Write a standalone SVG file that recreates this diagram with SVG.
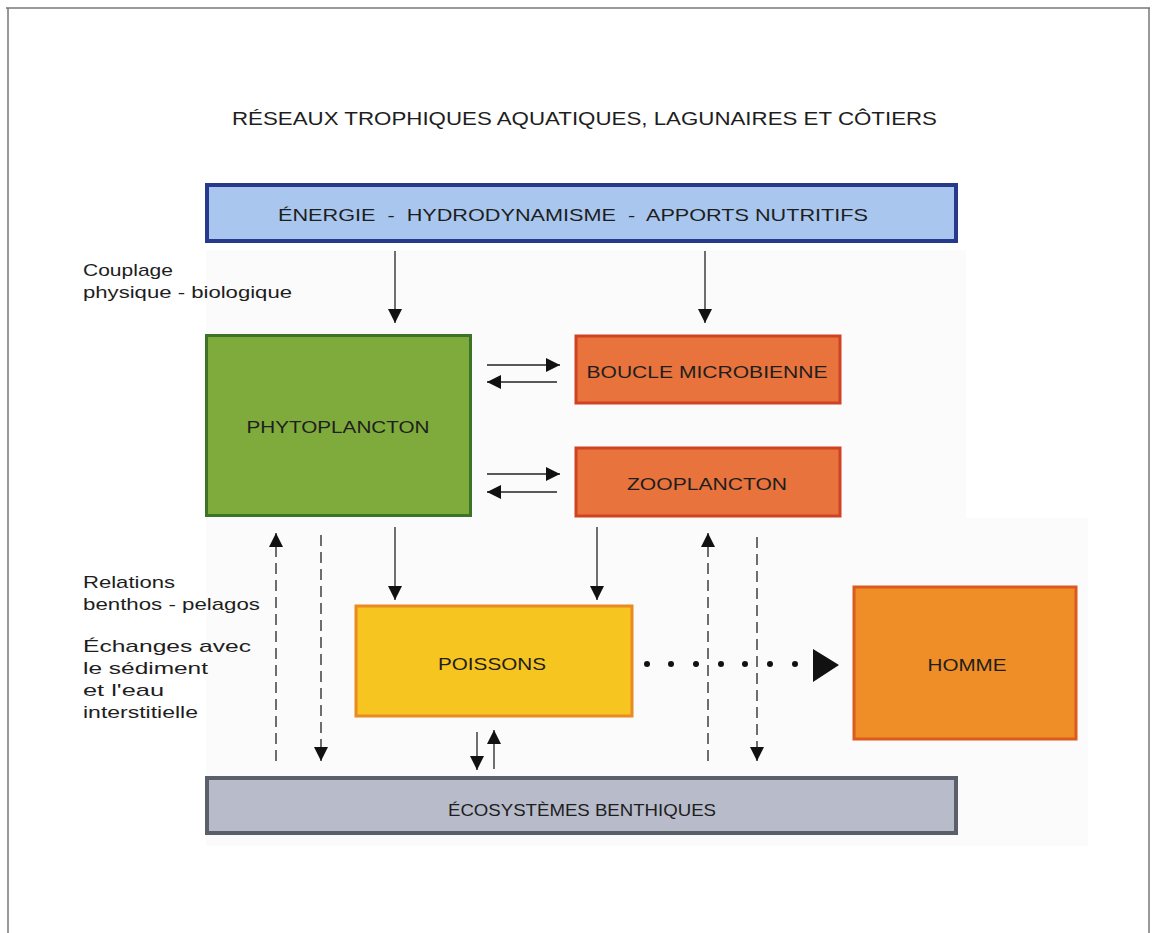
<svg xmlns="http://www.w3.org/2000/svg" width="1155" height="933" viewBox="0 0 1155 933">
<style>
  text { font-family: "Liberation Sans", Arial, sans-serif; fill: #1e1e1e; }
  .title { font-size: 18px; }
  .box { font-size: 17px; text-anchor: middle; }
  .lab { font-size: 17px; }
  .solid { stroke: #222; stroke-width: 1.3; fill: none; }
  .dash { stroke: #222; stroke-width: 1.3; fill: none; stroke-dasharray: 11 6; }
</style>
<defs>
  <marker id="ah" markerUnits="userSpaceOnUse" markerWidth="14" markerHeight="14" viewBox="0 0 14 14" refX="14" refY="7" orient="auto">
    <path d="M0,0 L14,7 L0,14 Z" fill="#111"/>
  </marker>
</defs>
<rect x="0" y="0" width="1155" height="933" fill="#ffffff"/>
<rect x="206" y="250" width="760" height="270" fill="#fbfbfb"/>
<rect x="206" y="518" width="882" height="328" fill="#fbfbfb"/>
<g id="frame" stroke="#777" stroke-width="1.5" fill="none">
  <line x1="6" y1="8" x2="1150" y2="8"/>
  <line x1="8" y1="8" x2="8" y2="933"/>
  <line x1="1149" y1="8" x2="1149" y2="933"/>
</g>
<text class="title" x="232" y="125" textLength="705" lengthAdjust="spacingAndGlyphs">RÉSEAUX TROPHIQUES AQUATIQUES, LAGUNAIRES ET CÔTIERS</text>

<g id="labels">
  <text class="lab" x="83" y="276" textLength="90" lengthAdjust="spacingAndGlyphs">Couplage</text>
  <text class="lab" x="83" y="298" textLength="209" lengthAdjust="spacingAndGlyphs">physique - biologique</text>
  <text class="lab" x="83" y="588" textLength="92" lengthAdjust="spacingAndGlyphs">Relations</text>
  <text class="lab" x="83" y="610" textLength="177" lengthAdjust="spacingAndGlyphs">benthos - pelagos</text>
  <text class="lab" x="83" y="652" textLength="168" lengthAdjust="spacingAndGlyphs">Échanges avec</text>
  <text class="lab" x="83" y="674" textLength="125" lengthAdjust="spacingAndGlyphs">le sédiment</text>
  <text class="lab" x="83" y="696" textLength="81" lengthAdjust="spacingAndGlyphs">et l'eau</text>
  <text class="lab" x="83" y="718" textLength="115" lengthAdjust="spacingAndGlyphs">interstitielle</text>
</g>

<g id="energie">
  <rect x="207" y="185" width="749" height="56" fill="#a9c7ee" stroke="#26398a" stroke-width="4"/>
  <text class="box" x="573" y="221" textLength="590" lengthAdjust="spacingAndGlyphs" style="white-space:pre" xml:space="preserve">ÉNERGIE  -  HYDRODYNAMISME  -  APPORTS NUTRITIFS</text>
</g>
<g id="phytoplancton">
  <rect x="206.5" y="335.5" width="264" height="180" fill="#7eab3b" stroke="#3c7327" stroke-width="3"/>
  <text class="box" x="338" y="433" textLength="183" lengthAdjust="spacingAndGlyphs">PHYTOPLANCTON</text>
</g>
<g id="boucle">
  <rect x="576" y="336" width="264" height="67" fill="#e8733c" stroke="#cf4222" stroke-width="3"/>
  <text class="box" x="707" y="378" textLength="241" lengthAdjust="spacingAndGlyphs">BOUCLE MICROBIENNE</text>
</g>
<g id="zooplancton">
  <rect x="576" y="448" width="264" height="68" fill="#e8733c" stroke="#cf4222" stroke-width="3"/>
  <text class="box" x="707" y="490" textLength="160" lengthAdjust="spacingAndGlyphs">ZOOPLANCTON</text>
</g>
<g id="poissons">
  <rect x="356" y="606" width="276" height="110" fill="#f6c51f" stroke="#ea8a21" stroke-width="3"/>
  <text class="box" x="492" y="670" textLength="108" lengthAdjust="spacingAndGlyphs">POISSONS</text>
</g>
<g id="homme">
  <rect x="854" y="587" width="222" height="152" fill="#ef8d27" stroke="#dc5a1f" stroke-width="3"/>
  <text class="box" x="967" y="671" textLength="79" lengthAdjust="spacingAndGlyphs">HOMME</text>
</g>
<g id="benthiques">
  <rect x="207" y="778" width="749" height="55" fill="#b7bbca" stroke="#5a5f6a" stroke-width="4"/>
  <text class="box" x="582" y="816" textLength="268" lengthAdjust="spacingAndGlyphs">ÉCOSYSTÈMES BENTHIQUES</text>
</g>

<g id="connectors">
  <line class="solid" x1="395" y1="251" x2="395" y2="323" marker-end="url(#ah)"/>
  <line class="solid" x1="705" y1="251" x2="705" y2="323" marker-end="url(#ah)"/>
  <line class="solid" x1="487" y1="365" x2="560" y2="365" marker-end="url(#ah)"/>
  <line class="solid" x1="557" y1="382" x2="487" y2="382" marker-end="url(#ah)"/>
  <line class="solid" x1="487" y1="474" x2="560" y2="474" marker-end="url(#ah)"/>
  <line class="solid" x1="557" y1="492" x2="487" y2="492" marker-end="url(#ah)"/>
  <line class="solid" x1="395" y1="527" x2="395" y2="600" marker-end="url(#ah)"/>
  <line class="solid" x1="597" y1="527" x2="597" y2="600" marker-end="url(#ah)"/>
  <line class="dash" x1="276" y1="761" x2="276" y2="533" marker-end="url(#ah)"/>
  <line class="dash" x1="321" y1="535" x2="321" y2="761" marker-end="url(#ah)"/>
  <line class="dash" x1="708" y1="761" x2="708" y2="533" marker-end="url(#ah)"/>
  <line class="dash" x1="757" y1="537" x2="757" y2="761" marker-end="url(#ah)"/>
  <line class="solid" x1="477" y1="732" x2="477" y2="770" marker-end="url(#ah)"/>
  <line class="solid" x1="494" y1="769" x2="494" y2="730" marker-end="url(#ah)"/>
  <g fill="#111">
    <circle cx="647" cy="664" r="3"/>
    <circle cx="671" cy="664" r="3"/>
    <circle cx="696" cy="664" r="3"/>
    <circle cx="721" cy="664" r="3"/>
    <circle cx="745" cy="664" r="3"/>
    <circle cx="770" cy="664" r="3"/>
    <circle cx="795" cy="664" r="3"/>
    <path d="M813,649 L839,665 L813,682 Z"/>
  </g>
</g>
</svg>
